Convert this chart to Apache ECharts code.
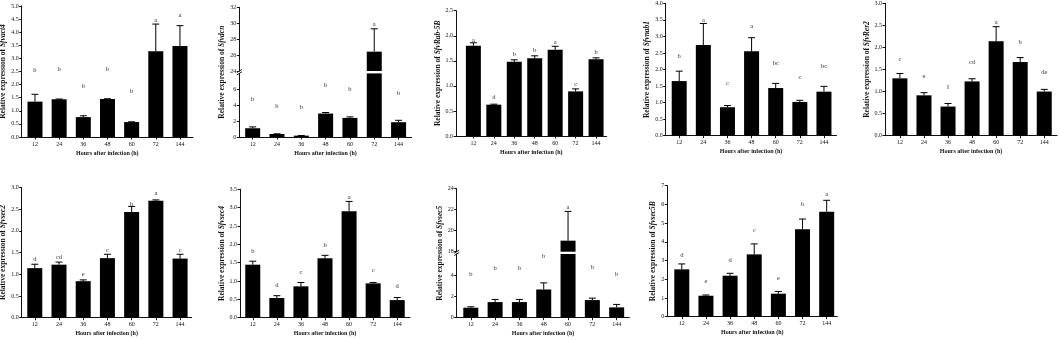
<!DOCTYPE html>
<html><head><meta charset="utf-8">
<script src="https://cdn.jsdelivr.net/npm/echarts@6/dist/echarts.min.js"></script>
<style>html,body{margin:0;padding:0;background:#fff}#c{width:1059px;height:340px}</style>
</head><body><div id="c"></div><script>
// ---------- data ----------
const hours = ['12', '24', '36', '48', '60', '72', '144'];
const xTitle = 'Hours after infection (h)';

const vact4Mean = [1.35, 1.44, 0.76, 1.45, 0.57, 3.27, 3.47];
const vact4Err  = [0.28, 0.01, 0.05, 0.01, 0.01, 1.04, 0.78];
const vact4Sig  = ['b', 'b', 'b', 'b', 'b', 'a', 'a'];
const vact4SigY = [2.53, 2.6, 1.95, 2.6, 1.76, 4.44, 4.66];
const vact4Ticks = [0, 0.5, 1, 1.5, 2, 2.5, 3, 3.5, 4, 4.5, 5];

const vdcnMean = [1.1, 0.38, 0.17, 2.95, 2.4, 26.43, 1.86];
const vdcnErr  = [0.17, 0.02, 0.01, 0.13, 0.13, 2.87, 0.24];
const vdcnSig  = ['b', 'b', 'b', 'b', 'b', 'a', 'b'];
const vdcnSigY = [4.77, 3.92, 3.7, 6.5, 5.95, 29.86, 5.44];
const vdcnLowTicks = [0, 2, 4, 6];
const vdcnHighTicks = [24, 26, 28, 30, 32];

const rab5bMean = [1.80, 0.625, 1.48, 1.55, 1.72, 0.89, 1.53];
const rab5bErr  = [0.06, 0.01, 0.04, 0.05, 0.07, 0.05, 0.03];
const rab5bSig  = ['a', 'd', 'b', 'b', 'a', 'c', 'b'];
const rab5bSigY = [1.91, 0.77, 1.64, 1.70, 1.87, 1.04, 1.67];
const rab5bTicks = [0, 0.5, 1, 1.5, 2, 2.5];

const nab1Mean = [1.65, 2.74, 0.86, 2.55, 1.44, 1.02, 1.33];
const nab1Err  = [0.30, 0.65, 0.05, 0.41, 0.14, 0.05, 0.16];
const nab1Sig  = ['b', 'a', 'c', 'a', 'bc', 'c', 'bc'];
const nab1SigY = [2.39, 3.5, 1.58, 3.3, 2.19, 1.76, 2.09];
const nab1Ticks = [0, 0.5, 1, 1.5, 2, 2.5, 3, 3.5, 4];

const rer2Mean = [1.30, 0.915, 0.66, 1.23, 2.14, 1.67, 1.0];
const rer2Err  = [0.11, 0.06, 0.07, 0.06, 0.33, 0.10, 0.05];
const rer2Sig  = ['c', 'e', 'f', 'cd', 'a', 'b', 'de'];
const rer2SigY = [1.73, 1.35, 1.10, 1.66, 2.57, 2.11, 1.44];
const rer2Ticks = [0, 0.5, 1, 1.5, 2, 2.5, 3];

const sec2Mean = [1.14, 1.22, 0.84, 1.37, 2.43, 2.69, 1.36];
const sec2Err  = [0.09, 0.06, 0.03, 0.09, 0.13, 0.02, 0.10];
const sec2Sig  = ['d', 'cd', 'e', 'c', 'b', 'a', 'c'];
const sec2SigY = [1.34, 1.39, 1.0, 1.56, 2.62, 2.86, 1.56];
const sec2Ticks = [0, 0.5, 1, 1.5, 2, 2.5, 3];

const sec4Mean = [1.445, 0.536, 0.855, 1.62, 2.9, 0.936, 0.48];
const sec4Err  = [0.095, 0.064, 0.105, 0.08, 0.27, 0.024, 0.07];
const sec4Sig  = ['b', 'd', 'c', 'b', 'a', 'c', 'd'];
const sec4SigY = [1.82, 0.88, 1.23, 1.98, 3.28, 1.30, 0.85];
const sec4Ticks = [0, 0.5, 1, 1.5, 2, 2.5, 3, 3.5];

const sec5Mean = [0.94, 1.47, 1.47, 2.66, 19.05, 1.66, 0.97];
const sec5Err  = [0.09, 0.25, 0.25, 0.62, 2.79, 0.18, 0.28];
const sec5Sig  = ['b', 'b', 'b', 'b', 'a', 'b', 'b'];
const sec5SigY = [4.1, 4.62, 4.62, 5.8, 22.25, 4.78, 4.1];
const sec5LowTicks = [0, 2, 4];
const sec5HighTicks = [18, 20, 22, 24];

const sec5bMean = [2.53, 1.12, 2.19, 3.33, 1.23, 4.67, 5.61];
const sec5bErr  = [0.29, 0.04, 0.13, 0.56, 0.12, 0.55, 0.61];
const sec5bSig  = ['d', 'e', 'd', 'c', 'e', 'b', 'a'];
const sec5bSigY = [3.3, 1.91, 3.03, 4.62, 2.03, 6.0, 6.54];
const sec5bTicks = [0, 1, 2, 3, 4, 5, 6, 7];

// ---------- layout ----------
const FONT = '"Liberation Serif","Times New Roman",serif';
const INK = '#111';
const panels = [
  {gene: 'Sfvact4', mean: vact4Mean, err: vact4Err, sig: vact4Sig, sigY: vact4SigY, ticks: vact4Ticks, dec: 1,
   L: 21.7, R: 193, top: 6, bottom: 137, padL: 0.55, padR: 0.54, gap: 13},
  {gene: 'Sfvdcn', mean: vdcnMean, err: vdcnErr, sig: vdcnSig, sigY: vdcnSigY, dec: 0,
   lowTicks: vdcnLowTicks, highTicks: vdcnHighTicks,
   brk: {lowMax: 8, lowTop: 73.4, highMin: 24, highMax: 32, highBottom: 71},
   L: 239.3, R: 411.7, top: 7.3, bottom: 137, padL: 0.55, padR: 0.54, gap: 13.6},
  {gene: 'SfvRab-5B', mean: rab5bMean, err: rab5bErr, sig: rab5bSig, sigY: rab5bSigY, ticks: rab5bTicks, dec: 1,
   L: 456, R: 606.7, top: 10.7, bottom: 136, padL: 0.85, padR: 0.52, gap: 12},
  {gene: 'Sfvnab1', mean: nab1Mean, err: nab1Err, sig: nab1Sig, sigY: nab1SigY, ticks: nab1Ticks, dec: 1,
   L: 665.7, R: 836.5, top: 3.3, bottom: 135.7, padL: 0.56, padR: 0.52, gap: 14},
  {gene: 'SfvRer2', mean: rer2Mean, err: rer2Err, sig: rer2Sig, sigY: rer2SigY, ticks: rer2Ticks, dec: 1,
   L: 885, R: 1057, top: 3.3, bottom: 135.7, padL: 0.62, padR: 0.53, gap: 12.7},
  {gene: 'Sfvsec2', mean: sec2Mean, err: sec2Err, sig: sec2Sig, sigY: sec2SigY, ticks: sec2Ticks, dec: 1,
   L: 21.7, R: 191.7, top: 187.3, bottom: 317.7, padL: 0.54, padR: 0.48, gap: 13.7},
  {gene: 'Sfvsec4', mean: sec4Mean, err: sec4Err, sig: sec4Sig, sigY: sec4SigY, ticks: sec4Ticks, dec: 1,
   L: 240, R: 410, top: 189.3, bottom: 317.7, padL: 0.53, padR: 0.53, gap: 14.3},
  {gene: 'Sfvsec5', mean: sec5Mean, err: sec5Err, sig: sec5Sig, sigY: sec5SigY, dec: 0,
   lowTicks: sec5LowTicks, highTicks: sec5HighTicks,
   brk: {lowMax: 6, lowTop: 254, highMin: 18, highMax: 24, highBottom: 251.7},
   L: 456.7, R: 629.3, top: 188.7, bottom: 317.7, padL: 0.58, padR: 0.52, gap: 12.7},
  {gene: 'Sfvsec5B', mean: sec5bMean, err: sec5bErr, sig: sec5bSig, sigY: sec5bSigY, ticks: sec5bTicks, dec: 0,
   L: 667.3, R: 837.3, top: 185.7, bottom: 316.7, padL: 0.6, padR: 0.44, gap: 9}
];

const option = {animation: false, backgroundColor: '#fff', grid: [], xAxis: [], yAxis: [], series: []};
const idx = [0, 1, 2, 3, 4, 5, 6];

function yName(p) {
  return {
    name: 'Relative expression of {i|' + p.gene + '}',
    nameLocation: 'middle', nameGap: p.gap,
    nameTextStyle: {fontFamily: FONT, fontSize: 7.5, fontWeight: 'bold', color: INK,
      rich: {i: {fontFamily: FONT, fontSize: 7.5, fontWeight: 'bold', fontStyle: 'italic', color: INK}}}
  };
}

panels.forEach(p => {
  const segs = p.brk ? [
    {min: 0, max: p.brk.lowMax, top: p.brk.lowTop, bottom: p.bottom, ticks: p.lowTicks, lower: true},
    {min: p.brk.highMin, max: p.brk.highMax, top: p.top, bottom: p.brk.highBottom, ticks: p.highTicks, lower: false}
  ] : [{min: p.ticks[0], max: p.ticks[p.ticks.length - 1], top: p.top, bottom: p.bottom, ticks: p.ticks, lower: true}];

  segs.forEach(seg => {
    const gi = option.grid.length;
    option.grid.push({left: p.L, top: seg.top, width: p.R - p.L, height: seg.bottom - seg.top,
      containLabel: false, outerBoundsMode: 'none'});
    option.xAxis.push({
      gridIndex: gi, type: 'value', min: -p.padL, max: 6 + p.padR, show: seg.lower,
      axisLine: {show: true, onZero: false, lineStyle: {color: INK, width: 1}},
      axisTick: {show: true, customValues: idx, length: 2.5, lineStyle: {color: INK, width: 1}},
      axisLabel: {show: true, customValues: idx, formatter: v => hours[Math.round(v)] || '',
        fontFamily: FONT, fontSize: 6, color: INK, margin: 4},
      splitLine: {show: false},
      name: xTitle, nameLocation: 'middle', nameGap: 13,
      nameTextStyle: {fontFamily: FONT, fontSize: 6, fontWeight: 'bold', color: INK}
    });
    const ya = {
      gridIndex: gi, type: 'value', min: seg.min, max: seg.max,
      axisLine: {show: true, onZero: false, lineStyle: {color: INK, width: 1}},
      axisTick: {show: true, customValues: seg.ticks, length: 2.5, lineStyle: {color: INK, width: 1}},
      axisLabel: {show: true, customValues: seg.ticks, formatter: v => Number(v).toFixed(p.dec),
        fontFamily: FONT, fontSize: 6, color: INK, margin: 3},
      splitLine: {show: false}
    };
    if (!p.brk) Object.assign(ya, yName(p));
    option.yAxis.push(ya);

    const inSeg = v => p.brk ? (seg.lower ? v <= p.brk.lowMax : v > p.brk.lowMax) : true;

    option.series.push({
      type: 'bar', xAxisIndex: gi, yAxisIndex: gi, barWidth: 15, clip: true,
      itemStyle: {color: '#000'},
      data: p.mean.map((v, i) => [i, v]).filter(d => seg.lower || d[1] > seg.min)
    });
    option.series.push({
      type: 'custom', xAxisIndex: gi, yAxisIndex: gi, encode: {x: 0, y: 1},
      data: p.mean.map((v, i) => [i, v, p.err[i]]).filter(d => inSeg(d[1])),
      renderItem: (params, api) => {
        const x = api.value(0), m = api.value(1), e = api.value(2);
        const a = api.coord([x, m]), b = api.coord([x, m + e]);
        const cap = 3.5;
        return {type: 'group', children: [
          {type: 'line', shape: {x1: a[0], y1: a[1], x2: b[0], y2: b[1]}, style: {stroke: '#000', lineWidth: 1}},
          {type: 'line', shape: {x1: b[0] - cap, y1: b[1], x2: b[0] + cap, y2: b[1]}, style: {stroke: '#000', lineWidth: 1}}
        ]};
      }
    });
    option.series.push({
      type: 'custom', xAxisIndex: gi, yAxisIndex: gi, encode: {x: 0, y: 1},
      data: p.sigY.map((v, i) => [i, v, i]).filter(d => inSeg(d[1])),
      renderItem: (params, api) => {
        const c = api.coord([api.value(0), api.value(1)]);
        return {type: 'text', x: c[0], y: c[1], style: {text: p.sig[api.value(2)],
          fontFamily: FONT, fontSize: 6.5, fill: '#333', align: 'center', verticalAlign: 'middle'}};
      }
    });
    if (p.brk) {
      option.series.push({
        type: 'custom', xAxisIndex: gi, yAxisIndex: gi, encode: {x: 0, y: 1},
        data: [[-p.padL, seg.lower ? seg.max : seg.min]],
        renderItem: (params, api) => {
          const c = api.coord([api.value(0), api.value(1)]);
          return {type: 'line', shape: {x1: c[0] - 2.5, y1: c[1] + 1.5, x2: c[0] + 2.5, y2: c[1] - 1.5},
            style: {stroke: INK, lineWidth: 1}};
        }
      });
    }
  });

  if (p.brk) {
    const gi = option.grid.length;
    option.grid.push({left: p.L, top: p.top, width: p.R - p.L, height: p.bottom - p.top,
      containLabel: false, outerBoundsMode: 'none'});
    option.xAxis.push({gridIndex: gi, type: 'value', show: false});
    option.yAxis.push(Object.assign({gridIndex: gi, type: 'value', min: 0, max: 1,
      axisLine: {show: false}, axisTick: {show: false}, axisLabel: {show: false}, splitLine: {show: false}}, yName(p)));
  }
});

const chart = echarts.init(document.getElementById('c'), null, {renderer: 'canvas'});
chart.setOption(option);
</script></body></html>
